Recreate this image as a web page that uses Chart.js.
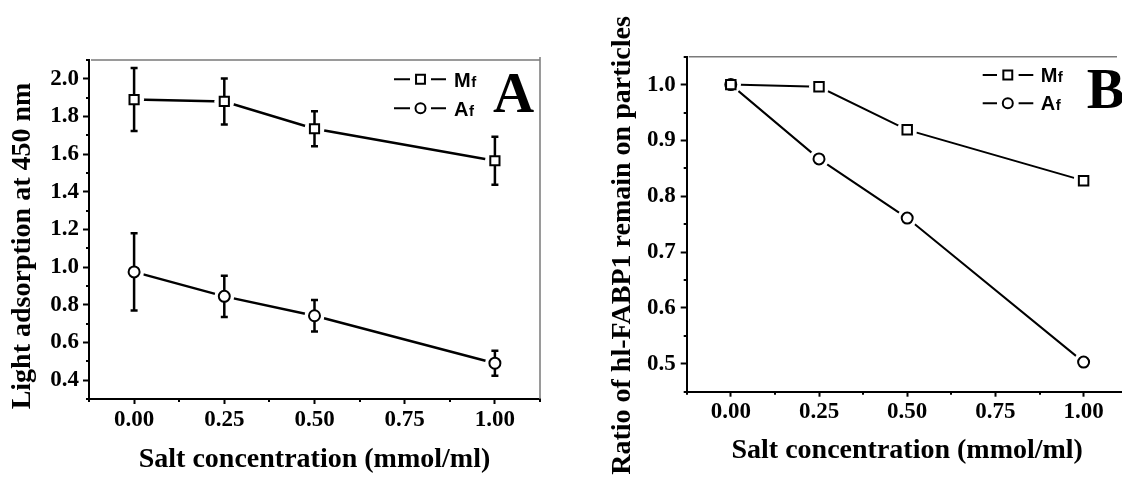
<!DOCTYPE html>
<html><head><meta charset="utf-8">
<script src="https://cdn.jsdelivr.net/npm/chart.js@4.4.1/dist/chart.umd.min.js"></script>
<style>
html,body{margin:0;padding:0;background:#fff;overflow:hidden;width:1122px;height:479px;}
#wrap{position:relative;width:1122px;height:479px;overflow:hidden;background:#fff;}
canvas{position:absolute;top:0;}
#ca{left:0;}
#cb{left:560px;}
</style></head><body>
<div id="wrap"><canvas id="ca" width="560" height="479"></canvas><canvas id="cb" width="580" height="479"></canvas></div>
<script>
// ---------- data ----------
const saltConc = [0, 0.25, 0.5, 1.0];
const xTickValues = [0, 0.25, 0.5, 0.75, 1.0];
const xMinorValues = [-0.125, 0.125, 0.375, 0.625, 0.875, 1.125];
const seriesNames = ['Mf', 'Af'];
// Panel A: light adsorption at 450 nm (mean, error)
const lightMf = [1.89, 1.88, 1.735, 1.565];
const lightMfErr = [0.167, 0.122, 0.093, 0.128];
const lightAf = [0.975, 0.845, 0.742, 0.49];
const lightAfErr = [0.205, 0.11, 0.084, 0.066];
const yTicksA = [0.4, 0.6, 0.8, 1.0, 1.2, 1.4, 1.6, 1.8, 2.0];
const yMinorA = [0.3, 0.5, 0.7, 0.9, 1.1, 1.3, 1.5, 1.7, 1.9, 2.1];
// Panel B: ratio of hl-FABP1 remaining on particles
const ratioMf = [1.0, 0.996, 0.919, 0.828];
const ratioAf = [1.0, 0.867, 0.761, 0.503];
const yTicksB = [0.5, 0.6, 0.7, 0.8, 0.9, 1.0];
const yMinorB = [0.45, 0.55, 0.65, 0.75, 0.85, 0.95, 1.05];

const xTitle = 'Salt concentration (mmol/ml)';
const yTitleA = 'Light adsorption at 450 nm';
const yTitleB = 'Ratio of hl-FABP1 remain on particles';

// ---------- layout / style ----------
const SERIF = '"Liberation Serif", "Times New Roman", serif';
const SANS = '"Liberation Sans", Arial, sans-serif';
const layoutA = {
  id: 'ca', padTop: 60, padRight: 20, yWidth: 89, xHeight: 80,
  yMin: 0.3, yMax: 2.1, yTicks: yTicksA, yMinor: yMinorA, yDec: 1,
  yTitle: yTitleA, yTitleX: 22.5, yTitleY: 246,
  xTickPad: 2, xTitlePad: 2, yTickPad: 4, xTickLen: 5, yTickLen: 6,
  lineWidth: 2.5, rectR: 6.5, circR: 5.5,
  legend: { x0: 394, x1: 446, seg: 10.5, mx: 420.5, rows: [79.3, 108.3], base: [86.7, 115.7], tx: 454, rectR: 6.3, circR: 5 },
  letter: { text: 'A', x: 493, y: 112 },
  topEnd: null
};
const layoutB = {
  id: 'cb', padTop: 56.7, padRight: 12.3, yWidth: 126.7, xHeight: 87.3,
  yMin: 0.45, yMax: 1.05, yTicks: yTicksB, yMinor: yMinorB, yDec: 1,
  yTitle: yTitleB, yTitleX: 63, yTitleY: 245.5,
  xTickPad: 2, xTitlePad: 11, yTickPad: 5, xTickLen: 5, yTickLen: 6,
  lineWidth: 2, rectR: 6.7, circR: 5.5,
  legend: { x0: 422.7, x1: 473.3, seg: 10.8, mx: 447.8, rows: [75, 103.3], base: [81.7, 110], tx: 480.7, rectR: 6.3, circR: 5 },
  letter: { text: 'B', x: 526.7, y: 108 },
  topEnd: 557
};

function pts(ys) { return saltConc.map((x, i) => ({ x: x, y: ys[i] })); }

function seriesSets(ys, errs, style, name, L) {
  const p = pts(ys);
  return [
    { label: name + ' line', data: p, showLine: true, borderColor: '#000', borderWidth: L.lineWidth, pointRadius: 0, order: 3, tension: 0 },
    { label: name + ' gap', data: p, showLine: false, pointRadius: 10, pointStyle: 'circle', pointBackgroundColor: '#fff', pointBorderWidth: 0, pointBorderColor: '#fff', order: 2, role: 'gap', errs: errs, ys: ys },
    { label: name, data: p, showLine: false, pointStyle: style, pointRadius: style === 'rect' ? L.rectR : L.circR, pointBorderWidth: 2, pointBorderColor: '#000', pointBackgroundColor: '#fff', order: 1 }
  ];
}

const decor = {
  id: 'decor',
  afterDatasetDraw(chart, args) {
    const ds = chart.data.datasets[args.index];
    if (ds.role !== 'gap' || !ds.errs) return;
    const ctx = chart.ctx, xs = chart.scales.x, ys = chart.scales.y;
    ctx.save();
    ctx.strokeStyle = '#000';
    ctx.lineWidth = 2.5;
    ctx.lineCap = 'butt';
    saltConc.forEach((xv, i) => {
      const px = xs.getPixelForValue(xv);
      const top = ys.getPixelForValue(ds.ys[i] + ds.errs[i]);
      const bot = ys.getPixelForValue(ds.ys[i] - ds.errs[i]);
      ctx.beginPath();
      ctx.moveTo(px, top); ctx.lineTo(px, bot);
      ctx.moveTo(px - 3.5, top); ctx.lineTo(px + 3.5, top);
      ctx.moveTo(px - 3.5, bot); ctx.lineTo(px + 3.5, bot);
      ctx.stroke();
    });
    ctx.restore();
  },
  afterDraw(chart) {
    const L = chart.options.plugins.decor.L;
    const ctx = chart.ctx, a = chart.chartArea, xs = chart.scales.x, ys = chart.scales.y;
    ctx.save();
    // gray top / right frame
    ctx.strokeStyle = '#7a7a7a';
    ctx.lineWidth = 1.5;
    ctx.beginPath();
    const tEnd = L.topEnd != null ? L.topEnd : a.right;
    ctx.moveTo(a.left + 2, a.top); ctx.lineTo(tEnd, a.top);
    if (L.topEnd == null) { ctx.moveTo(a.right, a.top - 3); ctx.lineTo(a.right, a.bottom); }
    ctx.stroke();
    // minor ticks
    ctx.strokeStyle = '#000';
    ctx.lineWidth = 2;
    ctx.beginPath();
    xMinorValues.forEach(v => { const px = Math.round(xs.getPixelForValue(v)); ctx.moveTo(px, a.bottom); ctx.lineTo(px, a.bottom + 3); });
    L.yMinor.forEach(v => { const py = Math.round(ys.getPixelForValue(v)); ctx.moveTo(a.left, py); ctx.lineTo(a.left - 3, py); });
    ctx.stroke();
    // y title
    ctx.fillStyle = '#000';
    ctx.font = 'bold 28px ' + SERIF;
    ctx.textAlign = 'center';
    ctx.textBaseline = 'middle';
    ctx.translate(L.yTitleX, L.yTitleY);
    ctx.rotate(-Math.PI / 2);
    ctx.fillText(L.yTitle, 0, 0);
    ctx.setTransform(1, 0, 0, 1, 0, 0);
    // legend
    const lg = L.legend;
    const styles = ['rect', 'circle'];
    seriesNames.forEach((nm, i) => {
      const y = lg.rows[i];
      ctx.strokeStyle = '#000';
      ctx.lineWidth = 2;
      ctx.beginPath();
      ctx.moveTo(lg.x0, y); ctx.lineTo(lg.mx - lg.seg, y);
      ctx.moveTo(lg.mx + lg.seg, y); ctx.lineTo(lg.x1, y);
      ctx.stroke();
      ctx.fillStyle = '#fff';
      ctx.lineWidth = 2;
      Chart.helpers.drawPoint(ctx, { pointStyle: styles[i], radius: styles[i] === 'rect' ? lg.rectR : lg.circR, borderWidth: 2, rotation: 0 }, lg.mx, y);
      ctx.fillStyle = '#000';
      ctx.textAlign = 'left';
      ctx.textBaseline = 'alphabetic';
      ctx.font = 'bold 20px ' + SANS;
      const big = nm.charAt(0), small = nm.slice(1);
      ctx.fillText(big, lg.tx, lg.base[i]);
      const w = ctx.measureText(big).width;
      ctx.font = 'bold 15px ' + SANS;
      ctx.fillText(small, lg.tx + w + 0.5, lg.base[i]);
    });
    // panel letter
    ctx.font = 'bold 57px ' + SERIF;
    ctx.textAlign = 'left';
    ctx.textBaseline = 'alphabetic';
    ctx.fillText(L.letter.text, L.letter.x, L.letter.y);
    ctx.restore();
  }
};

function makeChart(L, datasets) {
  return new Chart(document.getElementById(L.id), {
    type: 'line',
    data: { datasets: datasets },
    plugins: [decor],
    options: {
      responsive: false,
      animation: false,
      devicePixelRatio: 1,
      layout: { padding: { left: 0, top: L.padTop, right: L.padRight, bottom: 0 } },
      plugins: { legend: { display: false }, tooltip: { enabled: false }, decor: { L: L } },
      scales: {
        x: {
          type: 'linear', min: -0.125, max: 1.125,
          afterBuildTicks: s => { s.ticks = xTickValues.map(v => ({ value: v })); },
          afterFit: s => { s.height = L.xHeight; },
          ticks: { color: '#000', padding: L.xTickPad, autoSkip: false, maxRotation: 0, font: { family: SERIF, size: 23, weight: 'bold' }, callback: v => Number(v).toFixed(2) },
          grid: { drawOnChartArea: false, drawTicks: true, tickLength: L.xTickLen, tickWidth: 2, tickColor: '#000' },
          border: { display: true, color: '#000', width: 2 },
          title: { display: true, text: xTitle, color: '#000', font: { family: SERIF, size: 28, weight: 'bold' }, padding: { top: 0, bottom: L.xTitlePad } }
        },
        y: {
          type: 'linear', min: L.yMin, max: L.yMax,
          afterBuildTicks: s => { s.ticks = L.yTicks.map(v => ({ value: v })); },
          afterFit: s => { s.width = L.yWidth; },
          ticks: { color: '#000', padding: L.yTickPad, autoSkip: false, font: { family: SERIF, size: 23, weight: 'bold' }, callback: v => Number(v).toFixed(L.yDec) },
          grid: { drawOnChartArea: false, drawTicks: true, tickLength: L.yTickLen, tickWidth: 2, tickColor: '#000' },
          border: { display: true, color: '#000', width: 2 },
          title: { display: false }
        }
      }
    }
  });
}

makeChart(layoutA, [].concat(
  seriesSets(lightMf, lightMfErr, 'rect', 'Mf', layoutA),
  seriesSets(lightAf, lightAfErr, 'circle', 'Af', layoutA)
));
makeChart(layoutB, [].concat(
  seriesSets(ratioMf, null, 'rect', 'Mf', layoutB),
  seriesSets(ratioAf, null, 'circle', 'Af', layoutB)
));
</script>
</body></html>
